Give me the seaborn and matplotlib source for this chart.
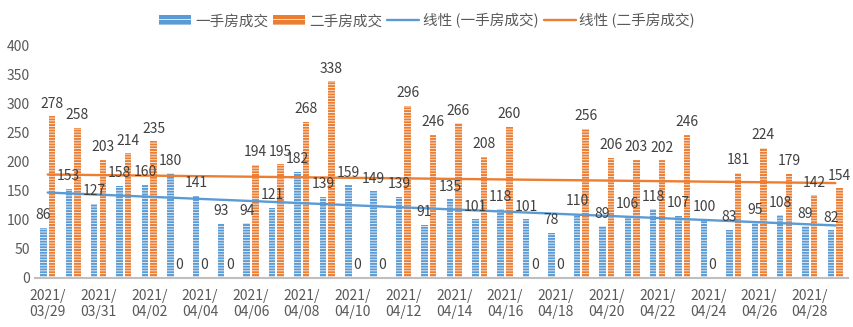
import numpy as np
import pandas as pd
import matplotlib
matplotlib.use("Agg")
import matplotlib.pyplot as plt
import seaborn as sns
from matplotlib.patches import Patch
from matplotlib.lines import Line2D

dates = ["03/29", "03/30", "03/31", "04/01", "04/02", "04/03", "04/04", "04/05",
         "04/06", "04/07", "04/08", "04/09", "04/10", "04/11", "04/12", "04/13",
         "04/14", "04/15", "04/16", "04/17", "04/18", "04/19", "04/20", "04/21",
         "04/22", "04/23", "04/24", "04/25", "04/26", "04/27", "04/28", "04/29"]
new_home = [86, 153, 127, 158, 160, 180, 141, 93, 94, 121, 182, 139, 159, 149, 139, 91,
            135, 101, 118, 101, 78, 110, 89, 106, 118, 107, 100, 83, 95, 108, 89, 82]
second_home = [278, 258, 203, 214, 235, 0, 0, 0, 194, 195, 268, 338, 0, 0, 296, 246,
               266, 208, 260, 0, 0, 256, 206, 203, 202, 246, 0, 181, 224, 179, 142, 154]
series_names = ["一手房成交", "二手房成交"]
trend_names = ["线性 (一手房成交)", "线性 (二手房成交)"]

BLUE = "#5B9BD5"
ORANGE = "#ED7D31"

sns.set_theme(style="white")
plt.rcParams["font.family"] = ["Noto Sans CJK SC", "DejaVu Sans"]
plt.rcParams["hatch.linewidth"] = 0.6

n = len(dates)
day = np.arange(n)
df = pd.DataFrame({
    "day": np.concatenate([day, day]),
    "value": new_home + second_home,
    "series": [series_names[0]] * n + [series_names[1]] * n,
})

fig = plt.figure(figsize=(8.54, 3.27), dpi=100)
ax = fig.add_axes([0.041, 0.150, 0.952, 0.712])

sns.barplot(data=df, x="day", y="value", hue="series", hue_order=series_names,
            palette=[BLUE, ORANGE], native_scale=True, width=0.68, gap=0.25,
            saturation=1, legend=False, ax=ax)

for cont in ax.containers:
    for p in cont:
        p.set_hatch("------")
        p.set_edgecolor("#f4f4f4")
        p.set_linewidth(0)
    ax.bar_label(cont, padding=4, fontsize=10, color="#404040")

sns.regplot(x=day, y=np.array(new_home, float), scatter=False, ci=None, truncate=True,
            color=BLUE, line_kws=dict(lw=1.7), ax=ax)
sns.regplot(x=day, y=np.array(second_home, float), scatter=False, ci=None, truncate=True,
            color=ORANGE, line_kws=dict(lw=1.7), ax=ax)

ax.set_xlim(-0.5, n - 0.5)
ax.set_ylim(0, 400)
ax.set_yticks(np.arange(0, 401, 50))
ax.set_xticks(day[::2])
ax.set_xticklabels(["2021/\n" + d for d in dates[::2]])
ax.set_xlabel("")
ax.set_ylabel("")
ax.tick_params(axis="both", length=0, labelsize=10, labelcolor="#595959")
ax.tick_params(axis="x", pad=8)
for s in ["left", "top", "right"]:
    ax.spines[s].set_visible(False)
ax.spines["bottom"].set_color("#BFBFBF")
ax.spines["bottom"].set_linewidth(1.5)
ax.grid(False)

handles = [
    Patch(facecolor=BLUE, edgecolor="#f4f4f4", hatch="---", lw=0),
    Patch(facecolor=ORANGE, edgecolor="#f4f4f4", hatch="---", lw=0),
    Line2D([], [], color=BLUE, lw=1.7),
    Line2D([], [], color=ORANGE, lw=1.7),
]
fig.legend(handles, series_names + trend_names, loc="upper center",
           bbox_to_anchor=(0.5, 1.0), ncol=4, frameon=False, fontsize=10.5,
           handlelength=2.2, handletextpad=0.25, columnspacing=0.35,
           labelcolor="#595959")

fig.savefig("out.png", dpi=100)
